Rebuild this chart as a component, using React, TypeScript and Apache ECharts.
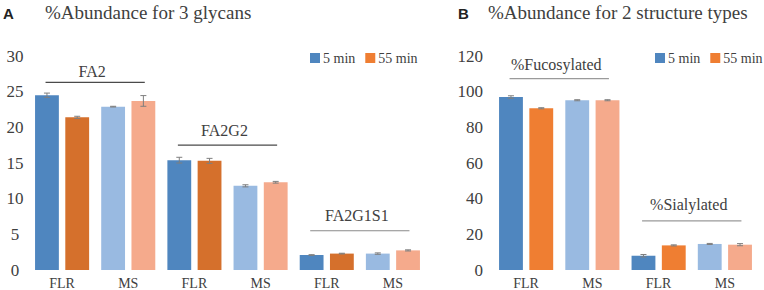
import React, { useEffect, useRef } from "react";
import * as echarts from "echarts";

// ---- Data (panel A) ----
const glycanCats = ["FLR", "MS", "FLR", "MS", "FLR", "MS"];
const glycan5 = [24.5, 22.9, 15.4, 11.8, 2.1, 2.3];
const glycan5Err = [0.3, 0.05, 0.4, 0.15, 0.05, 0.1];
const glycan55 = [21.4, 23.7, 15.3, 12.3, 2.3, 2.75];
const glycan55Err = [0.15, 0.75, 0.35, 0.12, 0.05, 0.08];
const glycanGroups = ["FA2", "FA2G2", "FA2G1S1"];
const glycanGroupLineY = [26.3, 17.5, 5.5];
const glycanGroupTextY = [27.8, 19.6, 7.6];
const glycanTicks = { min: 0, max: 30, interval: 5 };

// ---- Data (panel B) ----
const structCats = ["FLR", "MS", "FLR", "MS"];
const struct5 = [97.0, 95.2, 8.0, 14.6];
const struct5Err = [0.7, 0.3, 0.7, 0.3];
const struct55 = [90.7, 95.2, 13.8, 14.2];
const struct55Err = [0.3, 0.3, 0.3, 0.6];
const structGroups = ["%Fucosylated", "%Sialylated"];
const structGroupLineY = [107.3, 27.5];
const structGroupTextY = [115.5, 36.5];
const structTicks = { min: 0, max: 120, interval: 20 };

const seriesNames = ["5 min", "55 min"];

// ---- Styles ----
const SERIF = "Liberation Serif";
const SANS = "Liberation Sans";
const TXT = "#404040";
const BLUE = "#4f86bf";
const LBLUE = "#99bae1";
const SALMON = "#f5aa8c";
const ORANGE_A = "#d5702c";
const ORANGE_B = "#ef7e32";
const ERR = "#7f7f7f";
const BAR_W = 0.36;
const BAR_GAP = 0.27;
const OFF = (BAR_W * 2 + BAR_W * BAR_GAP) / 2 - BAR_W / 2;

function colored(vals: number[], c5: string, cMS: string) {
  return vals.map((v, i) => ({ value: v, itemStyle: { color: i % 2 === 0 ? c5 : cMS } }));
}

function errSeries(grid: number, vals: number[], errs: number[], sign: number) {
  return {
    type: "custom",
    xAxisIndex: grid,
    yAxisIndex: grid,
    z: 5,
    silent: true,
    data: vals.map((v, i) => [i, v, errs[i]]),
    encode: { x: 0, y: 1 },
    renderItem: (params: any, api: any) => {
      const ci = api.value(0);
      const v = api.value(1);
      const e = api.value(2);
      const ws = api.size([1, 0])[0];
      const top = api.coord([ci, v + e]);
      const bot = api.coord([ci, v - e]);
      const x = top[0] + sign * OFF * ws;
      const cap = 3;
      const st = { stroke: ERR, lineWidth: 1 };
      return {
        type: "group",
        children: [
          { type: "line", shape: { x1: x, y1: top[1], x2: x, y2: bot[1] }, style: st },
          { type: "line", shape: { x1: x - cap, y1: top[1], x2: x + cap, y2: top[1] }, style: st },
          { type: "line", shape: { x1: x - cap, y1: bot[1], x2: x + cap, y2: bot[1] }, style: st },
        ],
      };
    },
  };
}

function bracketSeries(grid: number, names: string[], lineY: number[], textY: number[], colors: string[]) {
  return {
    type: "custom",
    xAxisIndex: grid,
    yAxisIndex: grid,
    z: 6,
    silent: true,
    data: names.map((_, i) => [2 * i, 2 * i + 1, lineY[i], textY[i]]),
    encode: { x: [0, 1], y: [2, 3] },
    renderItem: (params: any, api: any) => {
      const a = api.coord([api.value(0), api.value(2)]);
      const b = api.coord([api.value(1), api.value(2)]);
      const t = api.coord([api.value(0), api.value(3)]);
      const ws = api.size([1, 0])[0];
      const cx = (a[0] + b[0]) / 2;
      const half = 0.75 * ws;
      return {
        type: "group",
        children: [
          {
            type: "line",
            shape: { x1: cx - half, y1: a[1], x2: cx + half, y2: a[1] },
            style: { stroke: colors[params.dataIndex], lineWidth: 1.2 },
          },
          {
            type: "text",
            x: cx - 3,
            y: t[1],
            style: {
              text: names[params.dataIndex],
              fill: TXT,
              fontFamily: SERIF,
              fontSize: 16,
              align: "center",
              verticalAlign: "middle",
            },
          },
        ],
      };
    },
  };
}

export default function App() {
  const ref = useRef<HTMLDivElement>(null);
  useEffect(() => {
    if (!ref.current) return;
    const chart = echarts.init(ref.current, null, { renderer: "svg" });
    const xAxisBase = {
      type: "category",
      axisLine: { show: false },
      axisTick: { show: false },
      axisLabel: { color: TXT, fontSize: 14, fontFamily: SERIF, margin: 6 },
    };
    const yAxisBase = {
      type: "value",
      axisLine: { show: false },
      axisTick: { show: false },
      splitLine: { show: false },
    };
    const legendBase = {
      top: 46,
      width: 200,
      orient: "horizontal",
      itemWidth: 10,
      itemHeight: 10,
      itemGap: 10,
      icon: "rect",
      data: seriesNames,
      textStyle: { color: TXT, fontSize: 14, fontFamily: SERIF, padding: [0, 0, 0, -2] },
    };
    const barBase = { type: "bar", barWidth: `${BAR_W * 100}%`, barGap: `${BAR_GAP * 100}%` };
    const titleText = (x: number, text: string) => ({
      type: "text",
      x,
      y: 12,
      style: { text, fontFamily: SERIF, fontSize: 19, fill: TXT, verticalAlign: "middle" },
    });
    const panelText = (x: number, text: string) => ({
      type: "text",
      x,
      y: 13,
      style: { text, fontFamily: SANS, fontSize: 15, fontWeight: "bold", fill: "#222", verticalAlign: "middle" },
    });
    chart.setOption({
      animation: false,
      grid: [
        { left: 29, right: 338, top: 56, bottom: 20 },
        { left: 493, right: 6, top: 56, bottom: 20 },
      ],
      xAxis: [
        { ...xAxisBase, gridIndex: 0, data: glycanCats },
        { ...xAxisBase, gridIndex: 1, data: structCats },
      ],
      yAxis: [
        {
          ...yAxisBase,
          gridIndex: 0,
          ...glycanTicks,
          axisLabel: { color: TXT, fontSize: 17, fontFamily: SERIF, align: "center", margin: 14 },
        },
        {
          ...yAxisBase,
          gridIndex: 1,
          ...structTicks,
          axisLabel: { color: TXT, fontSize: 17, fontFamily: SERIF, align: "right", margin: 10 },
        },
      ],
      legend: [
        { ...legendBase, left: 305 },
        { ...legendBase, left: 650 },
      ],
      graphic: [
        panelText(3, "A"),
        titleText(45, "%Abundance for 3 glycans"),
        panelText(458, "B"),
        titleText(488, "%Abundance for 2 structure types"),
      ],
      series: [
        { ...barBase, name: seriesNames[0], xAxisIndex: 0, yAxisIndex: 0, itemStyle: { color: BLUE }, data: colored(glycan5, BLUE, LBLUE) },
        { ...barBase, name: seriesNames[1], xAxisIndex: 0, yAxisIndex: 0, itemStyle: { color: ORANGE_B }, data: colored(glycan55, ORANGE_A, SALMON) },
        { ...barBase, name: seriesNames[0], xAxisIndex: 1, yAxisIndex: 1, itemStyle: { color: BLUE }, data: colored(struct5, BLUE, LBLUE) },
        { ...barBase, name: seriesNames[1], xAxisIndex: 1, yAxisIndex: 1, itemStyle: { color: ORANGE_B }, data: colored(struct55, ORANGE_B, SALMON) },
        errSeries(0, glycan5, glycan5Err, -1),
        errSeries(0, glycan55, glycan55Err, 1),
        errSeries(1, struct5, struct5Err, -1),
        errSeries(1, struct55, struct55Err, 1),
        bracketSeries(0, glycanGroups, glycanGroupLineY, glycanGroupTextY, ["#4a4a4a", "#4a4a4a", "#8a8a8a"]),
        bracketSeries(1, structGroups, structGroupLineY, structGroupTextY, ["#9a9a9a", "#9a9a9a"]),
      ],
    });
    return () => chart.dispose();
  }, []);
  return <div ref={ref} style={{ width: 764, height: 290, position: "absolute", left: 0, top: 0 }} />;
}
